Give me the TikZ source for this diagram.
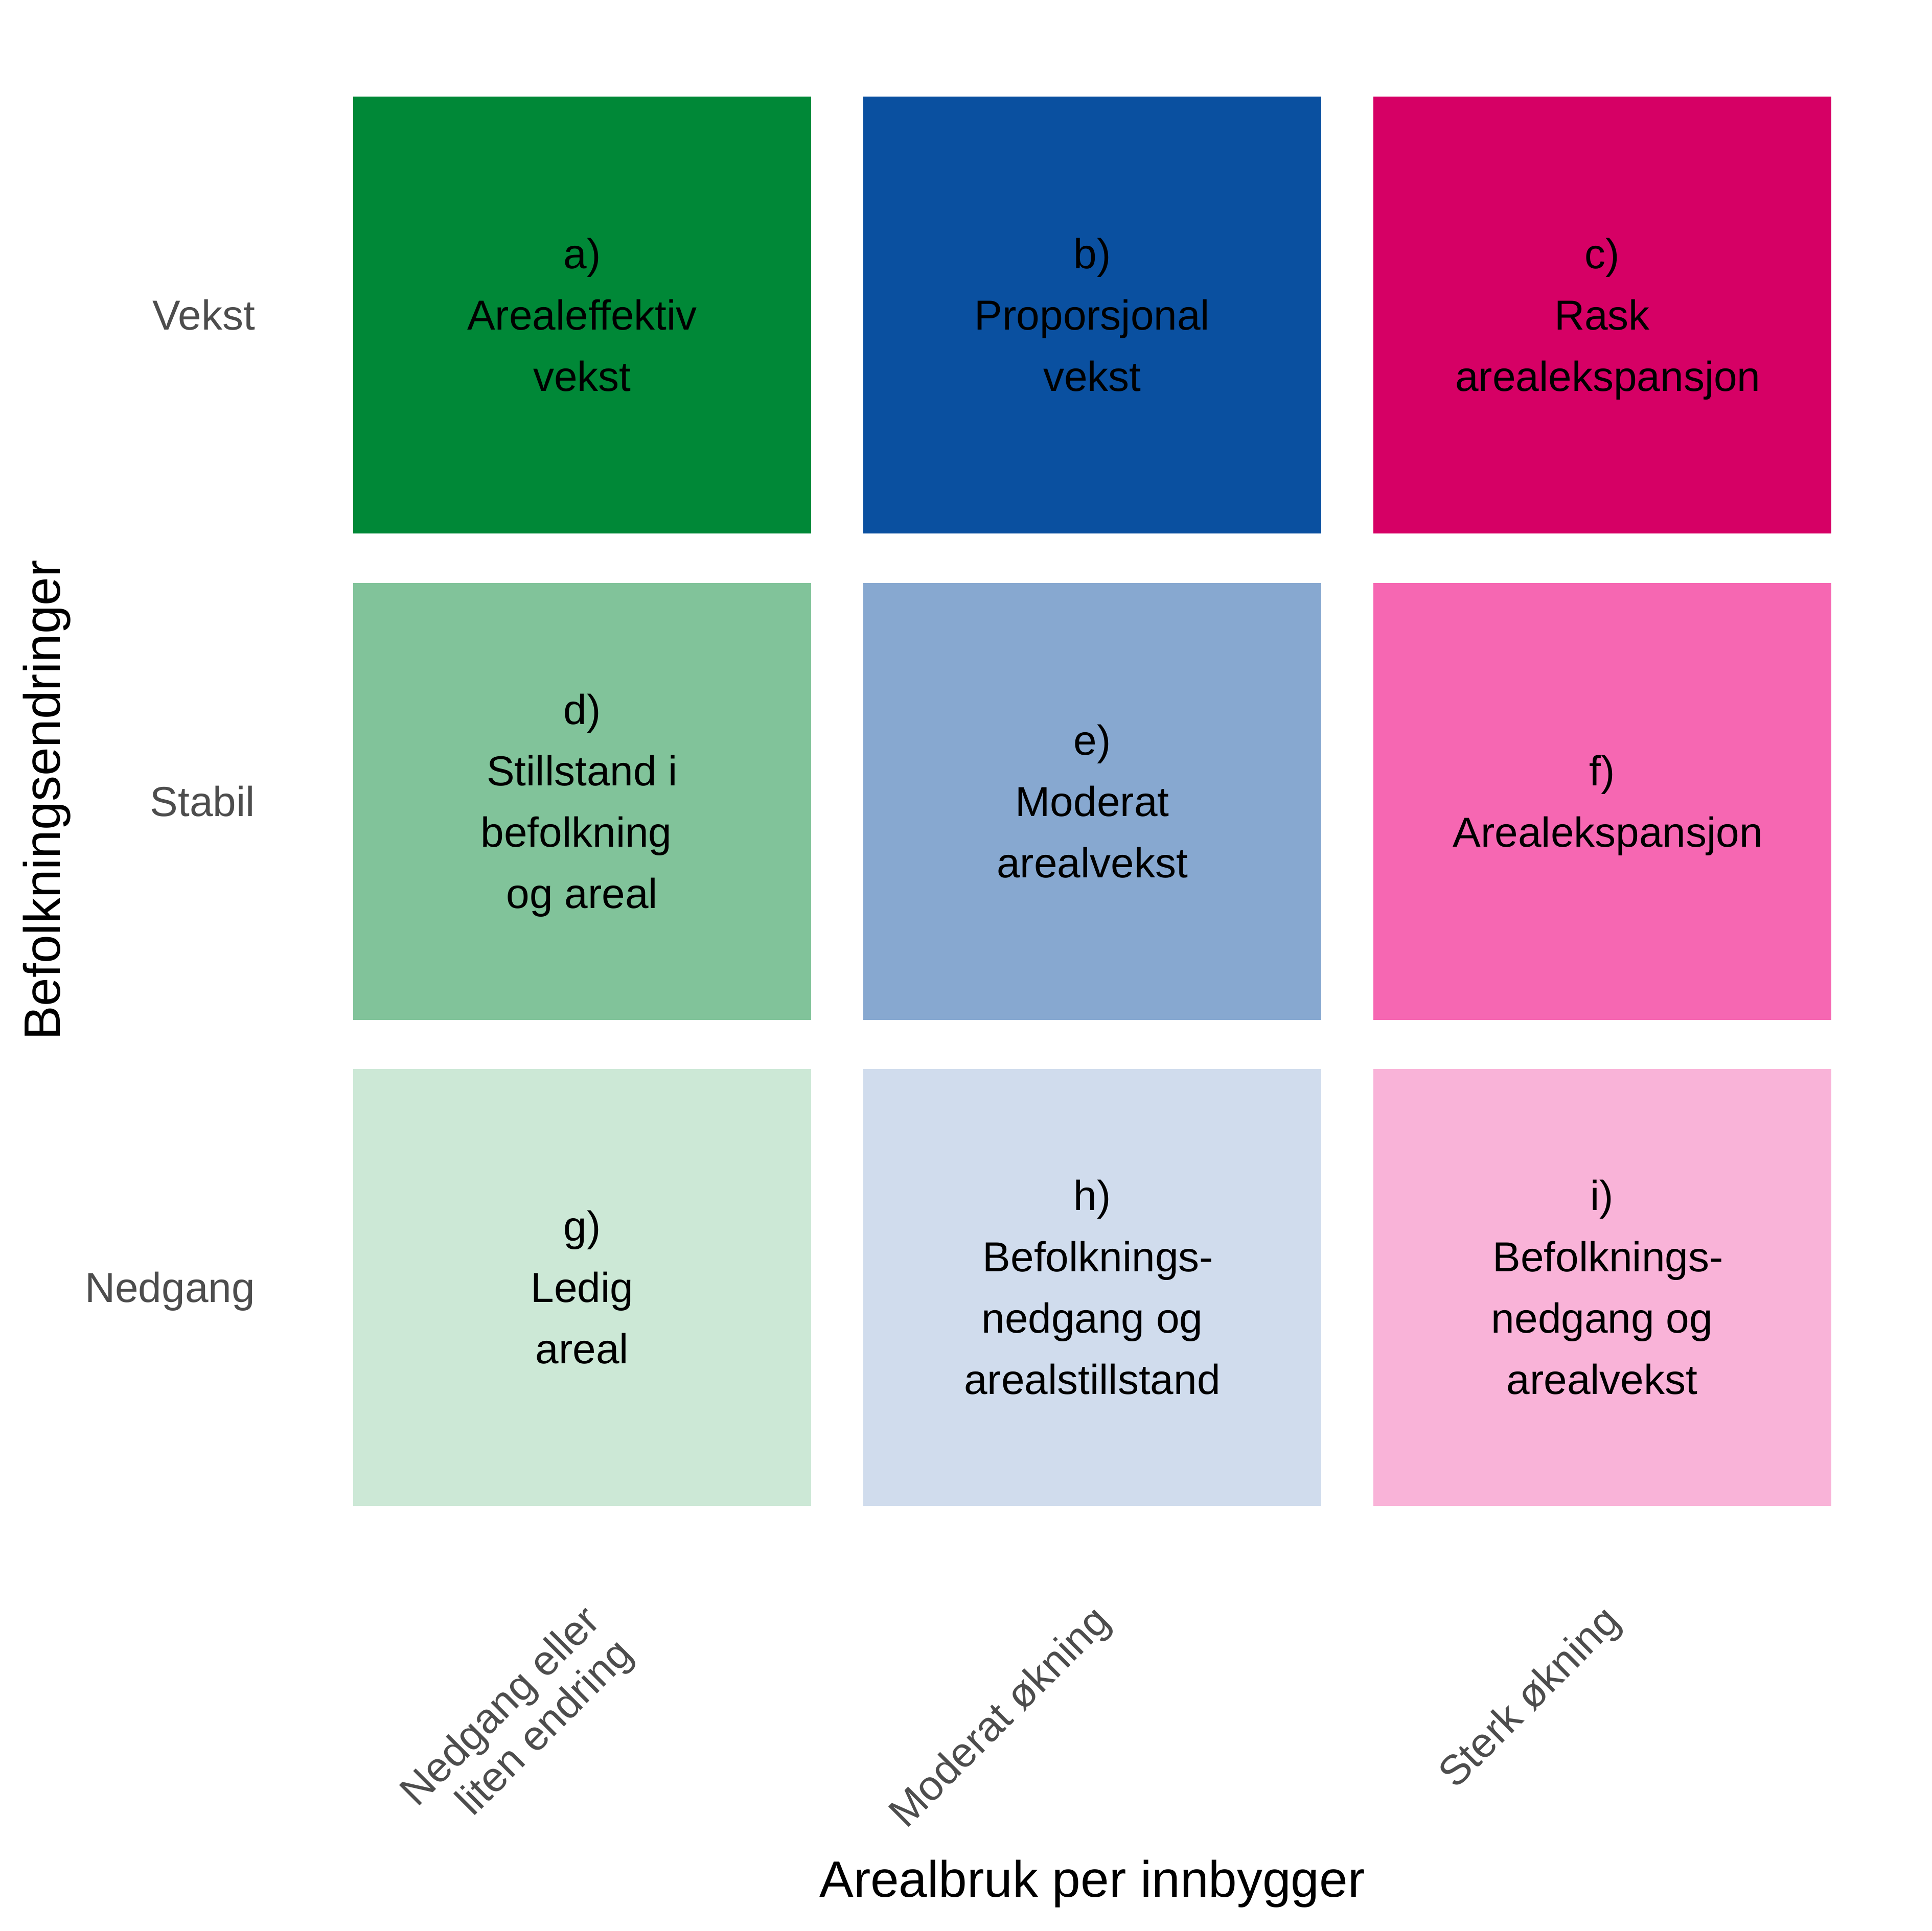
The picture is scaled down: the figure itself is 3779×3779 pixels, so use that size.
\documentclass[tikz,border=0pt]{standalone}
\usepackage{fontspec}
\setmainfont{Liberation Sans}
\definecolor{cA}{HTML}{008837}
\definecolor{cB}{HTML}{0A50A0}
\definecolor{cC}{HTML}{D60065}
\definecolor{cD}{HTML}{81C39A}
\definecolor{cE}{HTML}{87A8D0}
\definecolor{cF}{HTML}{F667B2}
\definecolor{cG}{HTML}{CCE8D6}
\definecolor{cH}{HTML}{D0DCED}
\definecolor{cI}{HTML}{F9B3D8}
\definecolor{axgray}{HTML}{4D4D4D}
\newcommand\tline[1]{\rule[-0.234em]{0pt}{1.184em}#1}
\newcommand\xline[1]{\rule[-0.25em]{0pt}{1em}#1}
\newcommand\lsp[1]{\hbox{\kern0.278em #1}}
\newcommand\tsp[1]{\hbox{#1\kern0.278em}}
\begin{document}
\begin{tikzpicture}[x=0.2pt,y=-0.2pt,
  tile/.style={rectangle, inner sep=0pt, outer sep=0pt, draw=none,
    minimum width=179.2pt, minimum height=171pt, align=center,
    font=\fontsize{16.4}{24}\selectfont, text=black},
  ylab/.style={anchor=base east, inner sep=0pt, text=axgray,
    font=\fontsize{16.4}{19}\selectfont},
  xlab/.style={anchor=north east, rotate=45, inner sep=0pt, align=right,
    text=axgray, font=\fontsize{16.4}{18}\selectfont},
  axtitle/.style={inner sep=0pt, text=black, font=\fontsize{20}{24}\selectfont}]
\useasboundingbox (0,0) rectangle (3779,3779);
% tiles
\node[tile, fill=cA] (a) at (1139,616.5) {\tline{a)}\\\tline{Arealeffektiv}\\\tline{vekst}};
\node[tile, fill=cB] (b) at (2137,616.5) {\tline{b)}\\\tline{Proporsjonal}\\\tline{vekst}};
\node[tile, fill=cC] (c) at (3134.5,616.5) {\tline{c)}\\\tline{Rask}\\\tline{\lsp{arealekspansjon}}};
\node[tile, fill=cD] (d) at (1139,1568.5) {\tline{d)}\\\tline{Stillstand i}\\\tline{\tsp{befolkning}}\\\tline{og areal}};
\node[tile, fill=cE] (e) at (2137,1568.5) {\tline{e)}\\\tline{Moderat}\\\tline{arealvekst}};
\node[tile, fill=cF] (f) at (3134.5,1568.5) {\tline{f)}\\\tline{\lsp{Arealekspansjon}}};
\node[tile, fill=cG] (g) at (1139,2519.5) {\tline{g)}\\\tline{Ledig}\\\tline{areal}};
\node[tile, fill=cH] (h) at (2137,2519.5) {\tline{h)}\\\tline{\lsp{Befolknings-}}\\\tline{nedgang og}\\\tline{arealstillstand}};
\node[tile, fill=cI] (i) at (3134.5,2519.5) {\tline{i)}\\\tline{\lsp{Befolknings-}}\\\tline{nedgang og}\\\tline{arealvekst}};
% y axis labels
\node[ylab] (yv) at (500,645.5) {Vekst};
\node[ylab] (ys) at (500,1597.5) {Stabil};
\node[ylab] (yn) at (500,2548.5) {Nedgang};
% x axis labels
\node[xlab] (x1) at (1134.5,3132.5) {\xline{Nedgang eller}\\\xline{liten endring}};
\node[xlab] (x2) at (2132.5,3132.5) {\xline{Moderat økning}};
\node[xlab] (x3) at (3130,3132.5) {\xline{Sterk økning}};
% axis titles
\node[axtitle, rotate=90, anchor=base] (ytitle) at (117.5,1566) {Befolkningsendringer};
\node[axtitle, anchor=base] (xtitle) at (2137,3712) {Arealbruk per innbygger};
\end{tikzpicture}
\end{document}
